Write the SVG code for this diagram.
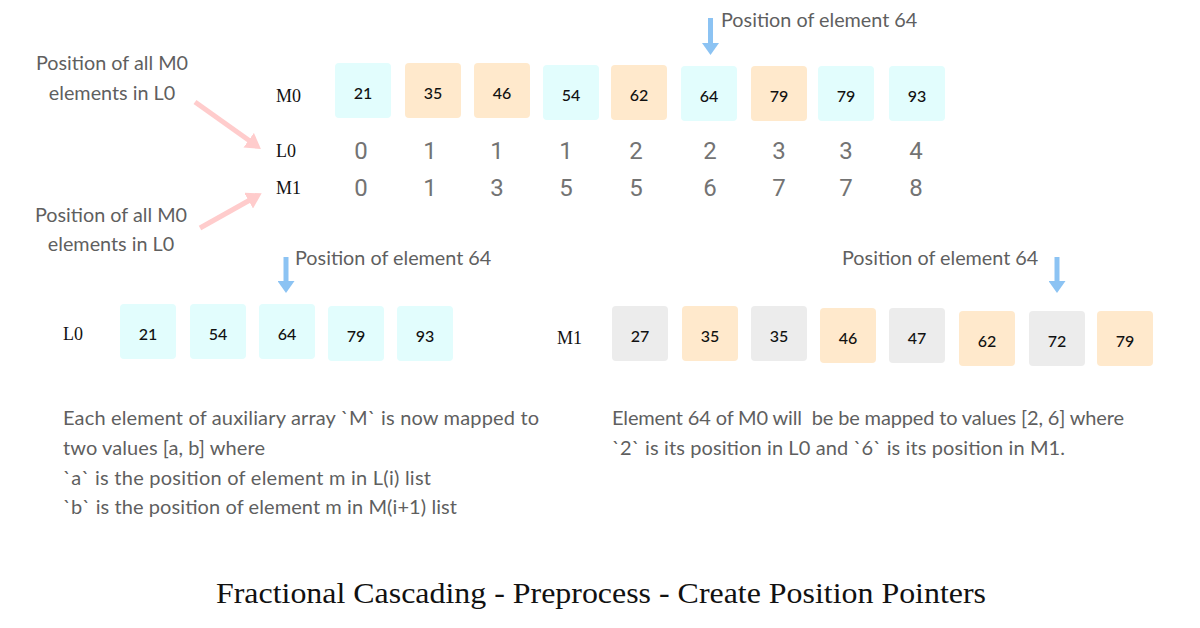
<svg xmlns="http://www.w3.org/2000/svg" width="1200" height="628" viewBox="0 0 1200 628">
<defs>
<style>
.bg{fill:#ffffff}
.cy{fill:#e2fdfd}
.pe{fill:#ffe9cc}
.gr{fill:#ececec}
.num{font-family:"Lato","Noto Sans",sans-serif;font-size:16px;fill:#111111;text-anchor:middle;font-weight:500}
.row{font-family:"Liberation Serif","DejaVu Serif",serif;font-size:18px;fill:#111111}
.idx{font-family:"Roboto","DejaVu Sans",sans-serif;font-size:24px;fill:#737373;text-anchor:middle}
.lbl{font-family:"Lato","Noto Sans",sans-serif;font-size:19.8px;fill:#5f5f5f}
.txt{font-family:"Lato","Noto Sans",sans-serif;font-size:20px;fill:#5f5f5f}
.title{font-family:"Liberation Serif","DejaVu Serif",serif;font-size:30px;fill:#111111}
.pink{stroke:#ffcccc;stroke-width:5;fill:none}
.blue{stroke:#8cc3f3;stroke-width:5;fill:none}
</style>
<marker id="hp" markerUnits="userSpaceOnUse" markerWidth="15" markerHeight="18" refX="1" refY="9" orient="auto" viewBox="0 0 15 18">
<path d="M0,0 L15,9 L0,18 z" fill="#ffcccc"/>
</marker>
<marker id="hb" markerUnits="userSpaceOnUse" markerWidth="12" markerHeight="17" refX="1" refY="8.5" orient="auto" viewBox="0 0 12 17">
<path d="M0,0 L12,8.5 L0,17 z" fill="#8cc3f3"/>
</marker>
</defs>
<rect class="bg" x="0" y="0" width="1200" height="628"/>

<g id="connectors">
<line class="pink" x1="195" y1="102" x2="249.5" y2="140.8" marker-end="url(#hp)"/>
<line class="pink" x1="200" y1="228" x2="249.5" y2="200.2" marker-end="url(#hp)"/>
<line class="blue" x1="710.5" y1="18" x2="710.5" y2="44" marker-end="url(#hb)"/>
<line class="blue" x1="286" y1="257" x2="286" y2="282" marker-end="url(#hb)"/>
<line class="blue" x1="1057" y1="257" x2="1057" y2="282" marker-end="url(#hb)"/>
</g>

<g id="labels">
<text class="lbl" x="112" y="70" text-anchor="middle">Position of all M0</text>
<text class="lbl" x="112" y="100" text-anchor="middle">elements in L0</text>
<text class="lbl" x="111" y="222" text-anchor="middle">Position of all M0</text>
<text class="lbl" x="111" y="251" text-anchor="middle">elements in L0</text>
<text class="lbl" x="721" y="27">Position of element 64</text>
<text class="lbl" x="295" y="265">Position of element 64</text>
<text class="lbl" x="842" y="265">Position of element 64</text>
</g>

<g id="row-labels">
<text class="row" x="276" y="102">M0</text>
<text class="row" x="276" y="157">L0</text>
<text class="row" x="276" y="194">M1</text>
<text class="row" x="63" y="340">L0</text>
<text class="row" x="557" y="344">M1</text>
</g>

<g id="m0-row">
<g id="m0-21"><rect class="cy" x="335" y="63" width="56" height="55" rx="4"/><text class="num" x="363" y="99">21</text></g>
<g id="m0-35"><rect class="pe" x="405" y="63" width="56" height="55" rx="4"/><text class="num" x="433" y="99">35</text></g>
<g id="m0-46"><rect class="pe" x="474" y="63" width="56" height="55" rx="4"/><text class="num" x="502" y="99">46</text></g>
<g id="m0-54"><rect class="cy" x="543" y="65" width="56" height="55" rx="4"/><text class="num" x="571" y="101">54</text></g>
<g id="m0-62"><rect class="pe" x="611" y="65" width="56" height="55" rx="4"/><text class="num" x="639" y="101">62</text></g>
<g id="m0-64"><rect class="cy" x="681" y="66" width="56" height="55" rx="4"/><text class="num" x="709" y="102">64</text></g>
<g id="m0-79a"><rect class="pe" x="751" y="66" width="56" height="55" rx="4"/><text class="num" x="779" y="102">79</text></g>
<g id="m0-79b"><rect class="cy" x="818" y="66" width="56" height="55" rx="4"/><text class="num" x="846" y="102">79</text></g>
<g id="m0-93"><rect class="cy" x="889" y="66" width="56" height="55" rx="4"/><text class="num" x="917" y="102">93</text></g>
</g>

<g id="l0-positions">
<text class="idx" x="361" y="159">0</text>
<text class="idx" x="430" y="159">1</text>
<text class="idx" x="497" y="159">1</text>
<text class="idx" x="566" y="159">1</text>
<text class="idx" x="636" y="159">2</text>
<text class="idx" x="710" y="159">2</text>
<text class="idx" x="779" y="159">3</text>
<text class="idx" x="846" y="159">3</text>
<text class="idx" x="916" y="159">4</text>
</g>

<g id="m1-positions">
<text class="idx" x="361" y="196">0</text>
<text class="idx" x="430" y="196">1</text>
<text class="idx" x="497" y="196">3</text>
<text class="idx" x="566" y="196">5</text>
<text class="idx" x="636" y="196">5</text>
<text class="idx" x="710" y="196">6</text>
<text class="idx" x="779" y="196">7</text>
<text class="idx" x="846" y="196">7</text>
<text class="idx" x="916" y="196">8</text>
</g>

<g id="l0-row">
<g id="l0-21"><rect class="cy" x="120" y="304" width="56" height="55" rx="4"/><text class="num" x="148" y="340">21</text></g>
<g id="l0-54"><rect class="cy" x="190" y="304" width="56" height="55" rx="4"/><text class="num" x="218" y="340">54</text></g>
<g id="l0-64"><rect class="cy" x="259" y="304" width="56" height="55" rx="4"/><text class="num" x="287" y="340">64</text></g>
<g id="l0-79"><rect class="cy" x="328" y="306" width="56" height="55" rx="4"/><text class="num" x="356" y="342">79</text></g>
<g id="l0-93"><rect class="cy" x="397" y="306" width="56" height="55" rx="4"/><text class="num" x="425" y="342">93</text></g>
</g>

<g id="m1-row">
<g id="m1-27"><rect class="gr" x="612" y="306" width="56" height="55" rx="4"/><text class="num" x="640" y="342">27</text></g>
<g id="m1-35a"><rect class="pe" x="682" y="306" width="56" height="55" rx="4"/><text class="num" x="710" y="342">35</text></g>
<g id="m1-35b"><rect class="gr" x="751" y="306" width="56" height="55" rx="4"/><text class="num" x="779" y="342">35</text></g>
<g id="m1-46"><rect class="pe" x="820" y="308" width="56" height="55" rx="4"/><text class="num" x="848" y="344">46</text></g>
<g id="m1-47"><rect class="gr" x="889" y="308" width="56" height="55" rx="4"/><text class="num" x="917" y="344">47</text></g>
<g id="m1-62"><rect class="pe" x="959" y="311" width="56" height="55" rx="4"/><text class="num" x="987" y="347">62</text></g>
<g id="m1-72"><rect class="gr" x="1029" y="311" width="56" height="55" rx="4"/><text class="num" x="1057" y="347">72</text></g>
<g id="m1-79"><rect class="pe" x="1097" y="311" width="56" height="55" rx="4"/><text class="num" x="1125" y="347">79</text></g>
</g>

<g id="notes">
<text class="txt" x="63" y="425" textLength="476">Each element of auxiliary array `M` is now mapped to</text>
<text class="txt" x="63" y="455" textLength="202">two values [a, b] where</text>
<text class="txt" x="63" y="485" textLength="368">`a` is the position of element m in L(i) list</text>
<text class="txt" x="63" y="514" textLength="394">`b` is the position of element m in M(i+1) list</text>
<text class="txt" x="612" y="425" xml:space="preserve" textLength="512">Element 64 of M0 will  be be mapped to values [2, 6] where</text>
<text class="txt" x="612" y="455" textLength="453">`2` is its position in L0 and `6` is its position in M1.</text>
</g>

<g id="title">
<text class="title" x="216" y="603" textLength="770" lengthAdjust="spacingAndGlyphs">Fractional Cascading - Preprocess - Create Position Pointers</text>
</g>
</svg>
